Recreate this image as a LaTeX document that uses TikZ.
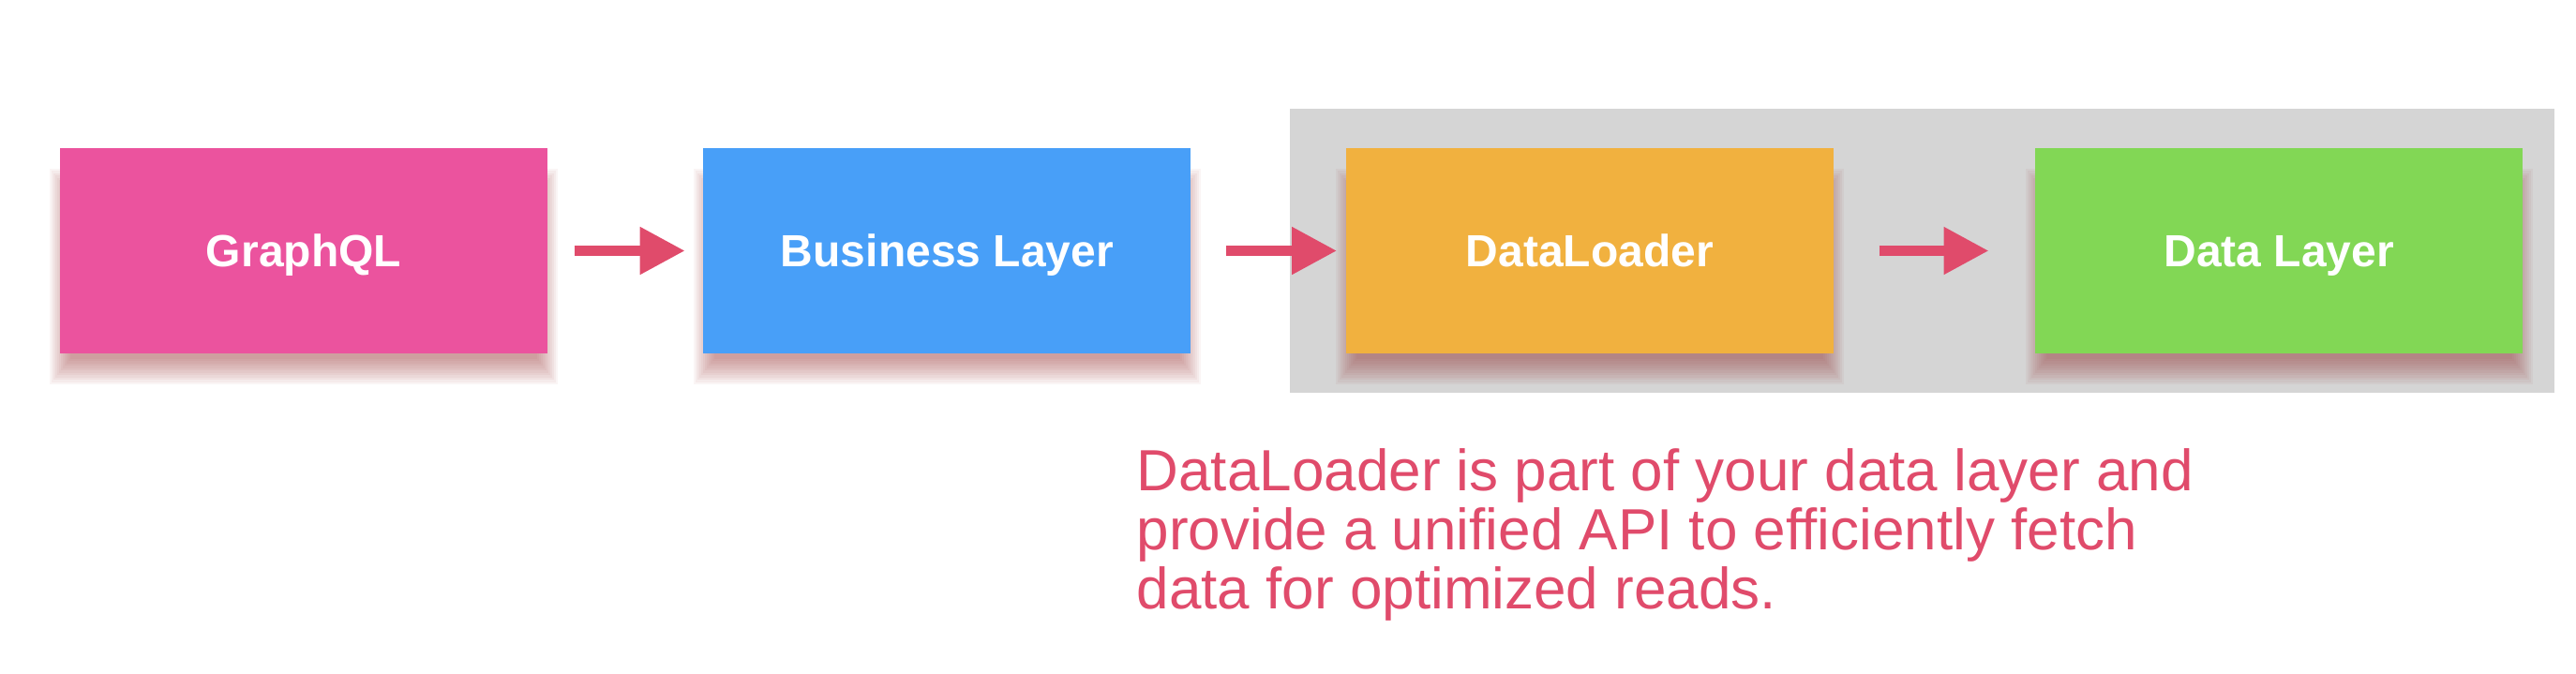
\documentclass[tikz,border=0pt]{standalone}
\usepackage{fontspec}
\setmainfont{Liberation Sans}
\usetikzlibrary{arrows.meta, positioning, backgrounds}
\definecolor{pink1}{RGB}{235,83,158}
\definecolor{blue1}{RGB}{72,159,248}
\definecolor{orange1}{RGB}{241,177,63}
\definecolor{green1}{RGB}{130,215,85}
\definecolor{gray1}{RGB}{213,213,213}
\definecolor{red1}{RGB}{224,75,107}
\definecolor{shade1}{RGB}{150,50,50}
\pgfdeclarelayer{back}
\pgfsetlayers{back,background,main}

\begin{document}
\begin{tikzpicture}[
    layerbox/.style={rectangle, minimum width=5.2cm, minimum height=2.19cm, inner sep=0pt, text height=0.345cm, text depth=0pt, text=white, font=\fontsize{0.48cm}{0.6cm}\selectfont\bfseries},
    myarrow/.style={-{Triangle[length=4.8mm,width=4.8mm]}, line width=1.1mm, red1},
    note/.style={anchor=north west, inner sep=0pt, align=left, text=red1, font=\fontsize{0.62cm}{0.63cm}\selectfont}
]
\useasboundingbox (0,0) rectangle (27.48,7.18);

% the layers
\node[layerbox, fill=pink1] (gql) at (3.24,4.505) {GraphQL};
\node[layerbox, fill=blue1, right=1.65cm of gql] (biz) {Business Layer};
\node[layerbox, fill=orange1, right=1.64cm of biz] (loader) {DataLoader};
\node[layerbox, fill=green1, right=2.14cm of loader] (store) {Data Layer};

% grey frame round the data layer part
\begin{pgfonlayer}{back}
\fill[gray1] (13.76,2.99) rectangle (27.25,6.02);
\end{pgfonlayer}

% soft shadows under the boxes
\begin{pgfonlayer}{background}
\foreach \n in {gql,biz,loader,store}{
  \foreach \k in {0,...,11}{
    \pgfmathsetmacro\sr{0.025*\k}
    \fill[shade1, opacity=0.05] ([shift={(0.12-0.8*\sr,-0.05-\sr)}]\n.south west) rectangle ([shift={(0.8*\sr-0.12,-0.5+\sr)}]\n.north east);
  }
}
\end{pgfonlayer}

\draw[myarrow, shorten <=2.8mm, shorten >=1.9mm] (gql) -- (biz);
\draw[myarrow, shorten <=3.7mm, shorten >=0.9mm] (biz) -- (loader);
\draw[myarrow, shorten <=4.8mm, shorten >=4.9mm] (loader) -- (store);

\node[note] (caption) at (12.12,2.40) {DataLoader is part of your data layer and\\provide a unified API to efficiently fetch\\data for optimized reads.};

\end{tikzpicture}
\end{document}
